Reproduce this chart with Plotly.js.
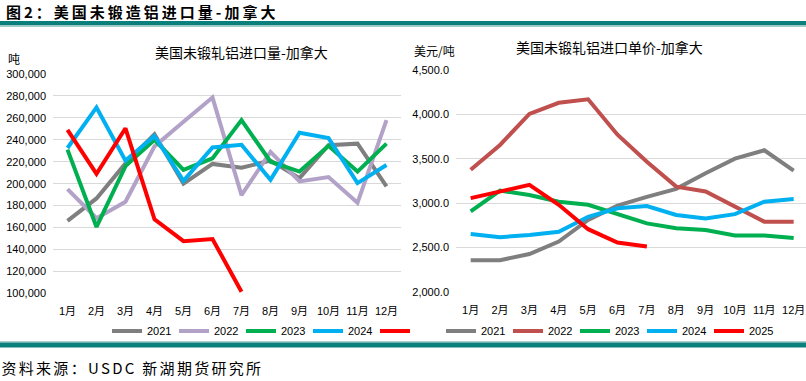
<!DOCTYPE html>
<html>
<head>
<meta charset="utf-8">
<script src="https://cdn.plot.ly/plotly-3.0.1.min.js"></script>
<style>
html,body{margin:0;padding:0;background:#fff;}
#chart{width:806px;height:381px;}
g.annotation[data-index="0"] text { letter-spacing: 3px; }
g.annotation[data-index="5"] text { letter-spacing: 2.3px; }
</style>
</head>
<body>
<div id="chart"></div>
<script>
const months = ['1月','2月','3月','4月','5月','6月','7月','8月','9月','10月','11月','12月'];
const years = ['2021','2022','2023','2024','2025'];

// 美国未锻轧铝进口量-加拿大 (吨)
const volume2021 = [166000, 186500, 218500, 245000, 200000, 218000, 214500, 221000, 205000, 235000, 236500, 197500];
const volume2022 = [195000, 168500, 183500, 234000, 256500, 278500, 189500, 229000, 202000, 206000, 182500, 258000];
const volume2023 = [231000, 160500, 216000, 240000, 212500, 223000, 258000, 220000, 211000, 234500, 211000, 236500];
const volume2024 = [232500, 269500, 221000, 243500, 202500, 233000, 235500, 203500, 246500, 241500, 200500, 217000];
const volume2025 = [249000, 209000, 250500, 167500, 147500, 149500, 101500];

// 美国未锻轧铝进口单价-加拿大 (美元/吨)
const price2021 = [2355, 2355, 2425, 2565, 2810, 2970, 3070, 3160, 3335, 3500, 3595, 3365];
const price2022 = [3375, 3655, 4005, 4130, 4170, 3770, 3465, 3185, 3130, 2965, 2790, 2790];
const price2023 = [2905, 3140, 3090, 3015, 2980, 2875, 2770, 2715, 2695, 2635, 2635, 2605];
const price2024 = [2650, 2615, 2640, 2675, 2845, 2940, 2965, 2865, 2825, 2875, 3015, 3045];
const price2025 = [3055, 3125, 3205, 2980, 2705, 2555, 2510];

const volumeSeries = [volume2021, volume2022, volume2023, volume2024, volume2025];
const priceSeries = [price2021, price2022, price2023, price2024, price2025];
const volumeColors = ['#7F7F7F', '#B3A2C7', '#00B050', '#00B0F0', '#FF0000'];
const priceColors = ['#7F7F7F', '#C0504D', '#00B050', '#00B0F0', '#FF0000'];
const volumeNames = ['2021', '2022', '2023', '2024', ' '];

const W = 806, H = 381;
const px = v => v / W;
const py = v => 1 - v / H;

const traces = [];
volumeSeries.forEach((ys, i) => {
  traces.push({
    type: 'scatter', mode: 'lines',
    x: months.slice(0, ys.length), y: ys,
    name: volumeNames[i],
    line: {color: volumeColors[i], width: 4},
    xaxis: 'x', yaxis: 'y', legend: 'legend'
  });
});
priceSeries.forEach((ys, i) => {
  traces.push({
    type: 'scatter', mode: 'lines',
    x: months.slice(0, ys.length), y: ys,
    name: years[i],
    line: {color: priceColors[i], width: 4},
    xaxis: 'x2', yaxis: 'y2', legend: 'legend2'
  });
});

const fontFamily = '"Liberation Sans", "Noto Sans CJK SC", sans-serif';
const cjk = '"Noto Sans CJK SC", "Liberation Sans", sans-serif';

const xCommon = {
  type: 'category', showgrid: false, showline: false, zeroline: false,
  ticks: '', tickangle: 0, automargin: false, ticklabelstandoff: 10,
  tickfont: {family: fontFamily, size: 11, color: '#000'},
  fixedrange: true
};
const yCommon = {
  showgrid: true, gridcolor: '#D9D9D9', gridwidth: 1, zeroline: false,
  showline: false, ticks: '', automargin: false, ticklabelstandoff: 6,
  tickfont: {family: fontFamily, size: 11, color: '#000'}, fixedrange: true
};

const legendCommon = {
  orientation: 'h', xanchor: 'left', yanchor: 'middle',
  entrywidth: 22, entrywidthmode: 'pixels', itemwidth: 30,
  font: {family: fontFamily, size: 11, color: '#000'}, bgcolor: 'rgba(0,0,0,0)',
  traceorder: 'normal', itemclick: false, itemdoubleclick: false
};

const layout = {
  width: W, height: H,
  margin: {l: 0, r: 0, t: 0, b: 0},
  paper_bgcolor: '#fff', plot_bgcolor: '#fff',
  showlegend: true,
  hovermode: false,
  xaxis: Object.assign({}, xCommon, {domain: [px(53), px(401)], range: [-0.5, 11.5], anchor: 'y'}),
  yaxis: Object.assign({}, yCommon, {domain: [py(293.3), py(74)], range: [100000, 300000], dtick: 20000, tickformat: ',d', anchor: 'x'}),
  xaxis2: Object.assign({}, xCommon, {domain: [px(456), 1], range: [-0.5, 11.42], anchor: 'y2'}),
  yaxis2: Object.assign({}, yCommon, {domain: [py(291.7), py(70)], range: [2000, 4500], dtick: 500, tickformat: ',.1f', anchor: 'x2'}),
  legend: Object.assign({}, legendCommon, {x: px(107), y: py(331)}),
  legend2: Object.assign({}, legendCommon, {x: px(441), y: py(331)}),
  shapes: [
    {type: 'rect', xref: 'paper', yref: 'paper', x0: 0, x1: 1, y0: py(25.5), y1: py(21), fillcolor: '#0B7F7C', line: {width: 0}},
    {type: 'rect', xref: 'paper', yref: 'paper', x0: 0, x1: 1, y0: py(27), y1: py(25.5), fillcolor: '#A9CFCD', line: {width: 0}},
    {type: 'rect', xref: 'paper', yref: 'paper', x0: 0, x1: 1, y0: py(342.5), y1: py(341), fillcolor: '#A9CFCD', line: {width: 0}},
    {type: 'rect', xref: 'paper', yref: 'paper', x0: 0, x1: 1, y0: py(347.5), y1: py(342.5), fillcolor: '#0B7F7C', line: {width: 0}}
  ],
  annotations: [
    {text: '<b>图2：美国未锻造铝进口量-加拿大</b>', xref: 'paper', yref: 'paper', x: px(142), y: py(12), xanchor: 'center', yanchor: 'middle', showarrow: false, font: {family: cjk, size: 15, color: '#000'}},
    {text: '美国未锻轧铝进口量-加拿大', xref: 'paper', yref: 'paper', x: px(241), y: py(52), xanchor: 'center', yanchor: 'middle', showarrow: false, font: {family: cjk, size: 14, color: '#000'}},
    {text: '美国未锻轧铝进口单价-加拿大', xref: 'paper', yref: 'paper', x: px(609), y: py(47), xanchor: 'center', yanchor: 'middle', showarrow: false, font: {family: cjk, size: 14, color: '#000'}},
    {text: '吨', xref: 'paper', yref: 'paper', x: px(6), y: py(59), xanchor: 'left', yanchor: 'middle', showarrow: false, font: {family: cjk, size: 12, color: '#000'}},
    {text: '美元/吨', xref: 'paper', yref: 'paper', x: px(412), y: py(50), xanchor: 'left', yanchor: 'middle', showarrow: false, font: {family: cjk, size: 12, color: '#000'}},
    {text: '资料来源：USDC 新湖期货研究所', xref: 'paper', yref: 'paper', x: px(132), y: py(367), xanchor: 'center', yanchor: 'middle', showarrow: false, font: {family: cjk, size: 15, color: '#000'}}
  ]
};

Plotly.newPlot('chart', traces, layout, {staticPlot: true, displayModeBar: false});
</script>
</body>
</html>
